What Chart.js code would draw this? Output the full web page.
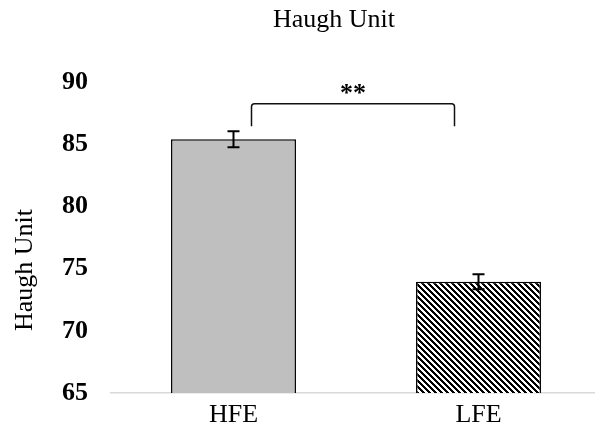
<!DOCTYPE html>
<html>
<head>
<meta charset="utf-8">
<script src="https://cdn.jsdelivr.net/npm/chart.js@4"></script>
<style>
  html, body { margin: 0; padding: 0; background: #fff; overflow: hidden; }
  #wrap { width: 601px; height: 436px; }
</style>
</head>
<body>
<div id="wrap"><canvas id="myChart" width="601" height="436"></canvas></div>
<script>
const categories = ['HFE', 'LFE'];
const means = [85.4, 73.95];
const errors = [0.65, 0.6];
const yTicks = [65, 70, 75, 80, 85, 90];
const chartTitle = 'Haugh Unit';
const yTitle = 'Haugh Unit';
const sigLabel = '**';

const serif = '"Liberation Serif", "Times New Roman", serif';

// diagonal hatch for the LFE bar
function makeHatch() {
    const c = document.createElement('canvas');
    c.width = 6;
    c.height = 6;
    const g = c.getContext('2d');
    g.fillStyle = '#fff';
    g.fillRect(0, 0, 6, 6);
    g.fillStyle = '#000';
    for (let y = 0; y < 6; y++) {
        for (let x = 0; x < 6; x++) {
            if (((x - y) % 6 + 6) % 6 < 3) g.fillRect(x, y, 1, 1);
        }
    }
    return document.getElementById('myChart').getContext('2d').createPattern(c, 'repeat');
}

// error bars, significance bracket, titles
const extras = {
    id: 'extras',
    afterDatasetsDraw(chart) {
        const { ctx } = chart;
        const x = chart.scales.x;
        const y = chart.scales.y;
        ctx.save();
        ctx.strokeStyle = '#000';
        ctx.lineWidth = 2;
        means.forEach((m, i) => {
            const cx = x.getPixelForValue(i);
            const top = y.getPixelForValue(m + errors[i]);
            const bot = y.getPixelForValue(m - errors[i]);
            ctx.beginPath();
            ctx.moveTo(cx, top); ctx.lineTo(cx, bot);
            ctx.moveTo(cx - 6, top); ctx.lineTo(cx + 6, top);
            ctx.moveTo(cx - 6, bot); ctx.lineTo(cx + 6, bot);
            ctx.stroke();
        });

        // bracket
        const bx1 = x.getPixelForValue(0) + 18;
        const bx2 = x.getPixelForValue(1) - 24;
        const by = y.getPixelForValue(88.25);
        const leg = y.getPixelForValue(86.45);
        ctx.lineWidth = 1.5;
        ctx.strokeStyle = '#111';
        ctx.beginPath();
        ctx.moveTo(bx1, leg);
        ctx.lineTo(bx1, by + 3);
        ctx.quadraticCurveTo(bx1, by, bx1 + 3, by);
        ctx.lineTo(bx2 - 3, by);
        ctx.quadraticCurveTo(bx2, by, bx2, by + 3);
        ctx.lineTo(bx2, leg);
        ctx.stroke();

        ctx.fillStyle = '#000';
        ctx.textAlign = 'center';
        ctx.textBaseline = 'alphabetic';
        ctx.font = 'bold 26px ' + serif;
        ctx.fillText(sigLabel, (bx1 + bx2) / 2, 101);

        ctx.font = '26px ' + serif;
        ctx.fillText(chartTitle, 334, 27);

        // y axis title sits a bit below the plot's middle
        ctx.translate(25, 270);
        ctx.rotate(-Math.PI / 2);
        ctx.textBaseline = 'middle';
        ctx.fillText(yTitle, 0, 0);
        ctx.restore();
    }
};

const ctx = document.getElementById('myChart').getContext('2d');

const myChart = new Chart(ctx, {
    type: 'bar',
    data: {
        labels: categories,
        datasets: [{
            data: means,
            backgroundColor: ['#bfbfbf', makeHatch()],
            borderColor: '#000',
            borderWidth: 1.5,
            categoryPercentage: 1,
            barPercentage: 0.51
        }]
    },
    options: {
        responsive: false,
        animation: false,
        layout: { padding: { top: 82, left: 0, right: 0, bottom: 0 } },
        plugins: {
            legend: { display: false },
            tooltip: { enabled: false },
            title: { display: false }
        },
        scales: {
            x: {
                grid: { display: false, drawTicks: false },
                border: { display: true, color: '#d9d9d9', width: 1.5 },
                ticks: {
                    color: '#000',
                    padding: 7,
                    font: { family: serif, size: 26 }
                },
                afterFit(scale) { scale.height = 43; }
            },
            y: {
                min: 65,
                max: 90,
                grid: { display: false, drawTicks: false },
                border: { display: false },
                afterBuildTicks(scale) {
                    scale.ticks = yTicks.map(v => ({ value: v }));
                },
                ticks: {
                    color: '#000',
                    padding: 23,
                    font: { family: serif, size: 26, weight: 'bold' }
                },
                afterFit(scale) { scale.width = 111; }
            }
        }
    },
    plugins: [extras]
});
</script>
</body>
</html>
